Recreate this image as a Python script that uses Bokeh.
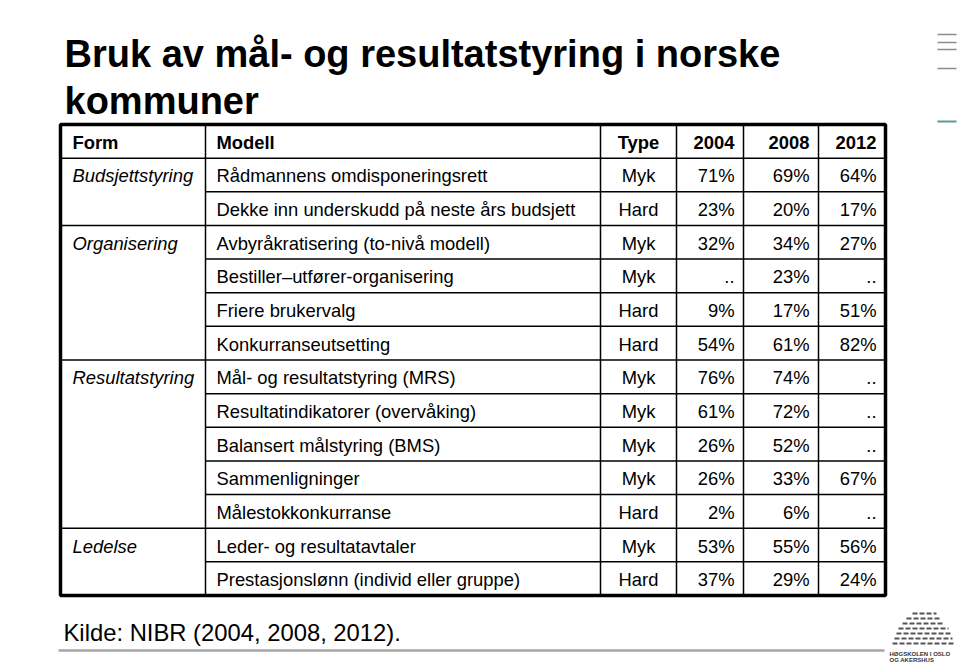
from bokeh.plotting import figure
from bokeh.models import Range1d, ColumnDataSource
from bokeh.embed import file_html
from bokeh.resources import INLINE
from bokeh.core.properties import value

# ---------------- data ----------------
title_lines = ["Bruk av mål- og resultatstyring i norske", "kommuner"]
headers = ["Form", "Modell", "Type", "2004", "2008", "2012"]
forms = ["Budsjettstyring", "", "Organisering", "", "", "", "Resultatstyring",
         "", "", "", "", "Ledelse", ""]
models = ["Rådmannens omdisponeringsrett",
          "Dekke inn underskudd på neste års budsjett",
          "Avbyråkratisering (to-nivå modell)",
          "Bestiller\u2013utfører-organisering",
          "Friere brukervalg",
          "Konkurranseutsetting",
          "Mål- og resultatstyring (MRS)",
          "Resultatindikatorer (overvåking)",
          "Balansert målstyring (BMS)",
          "Sammenligninger",
          "Målestokkonkurranse",
          "Leder- og resultatavtaler",
          "Prestasjonslønn (individ eller gruppe)"]
types = ["Myk", "Hard", "Myk", "Myk", "Hard", "Hard", "Myk", "Myk", "Myk",
         "Myk", "Hard", "Myk", "Hard"]
v2004 = [71, 23, 32, None, 9, 54, 76, 61, 26, 26, 2, 53, 37]
v2008 = [69, 20, 34, 23, 17, 61, 74, 72, 52, 33, 6, 55, 29]
v2012 = [64, 17, 27, None, 51, 82, None, None, None, 67, None, 56, 24]
source_note = "Kilde: NIBR (2004, 2008, 2012)."

def fmt(v):
    return ".." if v is None else f"{v}%"

# ---------------- layout ----------------
W, H = 960, 665
p = figure(width=W, height=H, output_backend="svg", toolbar_location=None,
           x_range=Range1d(0, W), y_range=Range1d(H, 0),
           min_border=0)
p.axis.visible = False
p.grid.visible = False
p.outline_line_color = None
p.background_fill_color = "white"

FONT = value("Liberation Sans")
BLACK = "#000000"

# title
p.text(x=[64, 64], y=[53, 100], text=title_lines, text_font=FONT,
       text_font_size="38px", text_font_style="bold", text_baseline="alphabetic",
       text_color=BLACK)

# table geometry
col_edges = [60, 205, 600, 676, 743, 818, 885]
top, bottom = 124, 595
n_rows = len(models) + 1
rh = (bottom - top) / n_rows
centers = [top + rh * (i + 0.5) for i in range(n_rows)]
FS = "18.4px"

# header
hx = [72, 216, (col_edges[2] + col_edges[3]) / 2, col_edges[4] - 9, col_edges[5] - 9, col_edges[6] - 9]
halign = ["left", "left", "center", "right", "right", "right"]
for h, x, a in zip(headers, hx, halign):
    p.text(x=[x], y=[centers[0] + 1], text=[h], text_font=FONT, text_font_size=FS,
           text_font_style="bold", text_align=a, text_baseline="middle", text_color=BLACK)

ys = [c + 1 for c in centers[1:]]
src = ColumnDataSource(dict(
    y=ys, form=forms, model=models, typ=types,
    a=[fmt(v) for v in v2004], b=[fmt(v) for v in v2008], c=[fmt(v) for v in v2012]))

p.text(x=72, y="y", text="form", source=src, text_font=FONT, text_font_size=FS,
       text_font_style="italic", text_baseline="middle", text_color=BLACK)
p.text(x=216, y="y", text="model", source=src, text_font=FONT, text_font_size=FS,
       text_baseline="middle", text_color=BLACK)
p.text(x=hx[2], y="y", text="typ", source=src, text_font=FONT, text_font_size=FS,
       text_align="center", text_baseline="middle", text_color=BLACK)
for col, x in zip(["a", "b", "c"], hx[3:]):
    p.text(x=x, y="y", text=col, source=src, text_font=FONT, text_font_size=FS,
           text_align="right", text_baseline="middle", text_color=BLACK)

# inner lines
x0s, y0s, x1s, y1s = [], [], [], []
for xe in col_edges[1:-1]:
    x0s.append(xe); x1s.append(xe); y0s.append(top); y1s.append(bottom)
for i in range(1, n_rows):
    yline = top + rh * i
    data_idx = i - 1  # row index of the row below the line
    full = (i == 1) or (forms[data_idx] != "")
    x0s.append(col_edges[0] if full else col_edges[1]); x1s.append(col_edges[-1])
    y0s.append(yline); y1s.append(yline)
p.segment(x0=x0s, y0=y0s, x1=x1s, y1=y1s, line_color=BLACK, line_width=1.5)

# outer border
p.quad(left=[col_edges[0]], right=[col_edges[-1]], top=[top], bottom=[bottom],
       fill_color=None, line_color=BLACK, line_width=3.5)

# source note
p.text(x=[63], y=[632], text=[source_note], text_font=FONT, text_font_size="23.8px",
       text_baseline="middle", text_color=BLACK)

# bottom gray rule
p.segment(x0=[58], y0=[650], x1=[884], y1=[650], line_color="#a6a6a6", line_width=2.5)

# top-right decoration
p.segment(x0=[937] * 4, y0=[34, 42, 49, 68], x1=[956] * 4, y1=[34, 42, 49, 68],
          line_color="#8c8c8c", line_width=1.5)
p.segment(x0=[937], y0=[121], x1=[956], y1=[121], line_color="#5b9b94", line_width=2)

# logo (stylised)
lx = [912, 906, 902, 898, 896, 894, 892]
lw = [24, 34, 42, 50, 54, 58, 62]
ly = [613, 618, 623, 628, 633, 638, 643]
for x, w, y in zip(lx, lw, ly):
    p.segment(x0=[x], y0=[y], x1=[x + w], y1=[y], line_color="#555555",
              line_width=2, line_dash="5 2")
p.text(x=[889, 889], y=[653, 659], text=["HØGSKOLEN I OSLO", "OG AKERSHUS"],
       text_font=FONT, text_font_size="6px", text_font_style="bold",
       text_baseline="middle", text_color="#333333")

open("out.html", "w").write(file_html(p, INLINE))
